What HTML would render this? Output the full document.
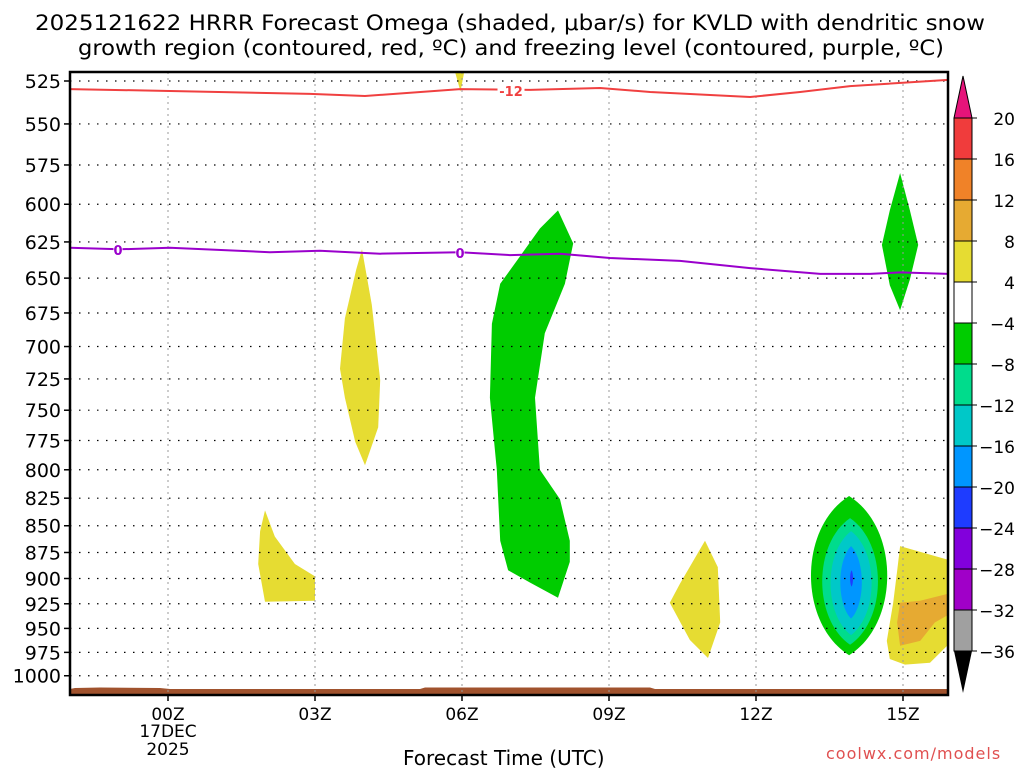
<!DOCTYPE html>
<html><head><meta charset="utf-8"><style>
body{margin:0;background:#fff;}
svg{display:block;font-family:"DejaVu Sans","Liberation Sans",sans-serif;}
</style></head><body>
<svg id="chart" width="1024" height="768" viewBox="0 0 1024 768" xmlns="http://www.w3.org/2000/svg">
<defs><clipPath id="pc"><rect x="70" y="72" width="878" height="623"/></clipPath></defs>
<text x="35" y="30" font-size="21" textLength="950" lengthAdjust="spacingAndGlyphs">2025121622 HRRR Forecast Omega (shaded, μbar/s) for KVLD with dendritic snow</text>
<text x="78" y="55" font-size="21" textLength="866" lengthAdjust="spacingAndGlyphs">growth region (contoured, red, ºC) and freezing level (contoured, purple, ºC)</text>
<g id="shades" clip-path="url(#pc)"></g>
<g id="grid"></g>
<g id="lines"></g>
<g id="axes"></g>
<g id="cbar"></g>
<text x="403" y="765" font-size="20">Forecast Time (UTC)</text>
<text x="826" y="759" font-size="16" fill="#e05050" letter-spacing="1">coolwx.com/models</text>
</svg>
<script>
const pTicks=[525,550,575,600,625,650,675,700,725,750,775,800,825,850,875,900,925,950,975,1000];
const hTicks=[0,3,6,9,12,15];
const hLabels=['00Z','03Z','06Z','09Z','12Z','15Z'];
const cbLevels=[20,16,12,8,4,-4,-8,-12,-16,-20,-24,-28,-32,-36];
const cbColors=['#f03c3c','#f08228','#e6aa32','#e6dc32','#ffffff','#00cc00','#00dc8c','#00c8c8','#0096ff','#1e3cff','#8200dc','#a000c8','#a0a0a0'];
const yel1H=[3.96,4.16,4.33,4.29,4.02,3.82,3.61,3.51,3.61,3.84];
const yel1P=[630,669,726,764,796,776,740,717,679,644];
const yel2H=[1.98,2.18,2.59,3.0,3.0,1.98,1.84,1.88];
const yel2P=[836,860,886,898,922,923,886,855];
const yel3H=[10.96,11.22,11.27,11.02,10.65,10.24,10.45];
const yel3P=[864,889,944,981,962,924,905];
const yel4H=[14.94,16,16,15.55,15.04,14.73,14.67,14.8,14.88];
const yel4P=[869,883,963,986,988,982,963,924,893];
const orgH=[14.94,15.35,16,16,15.65,15.35,14.94,14.88];
const orgP=[924,922,914,934,944,963,968,944];
const yelTopH=[5.85,6.05,5.97];
const yelTopP=[519,519,531];
const grn1H=[7.96,8.27,8.10,7.69,7.49,7.59,8.0,8.2,8.2,7.96,7.39,6.94,6.78,6.71,6.57,6.61,6.78,7.18,7.59];
const grn1P=[604,626,654,690,740,800,826,864,884,919,904,892,864,800,740,683,654,635,616];
const grn2H=[14.94,15.14,15.31,15.14,14.94,14.73,14.57,14.73];
const grn2P=[580,604,627,651,673,655,627,604];
const ringC=[13.9,13.92,13.94,13.94,13.95];
const ringW=[0.78,0.57,0.42,0.22,0.03];
const ringTop=[823,843,855,869,892];
const ringBot=[978,967,957,940,908];
const ringCol=[5,6,7,8,9];
const redH=[-2,0.04,2.9,4.02,5.96,7.39,8.82,9.84,11.88,12.9,13.92,15.92];
const redP=[529.6,530.7,532.4,533.6,529.6,530.1,529,531.3,534.2,531.3,527.9,524.4];
const purH=[-2,-1,0.04,2.08,3.1,4.33,5.96,6.98,8.0,9.02,10.45,11.88,13.31,14.33,14.94,15.92];
const purP=[629,630,629,632,631,633,632,634,633,636,638,643,647,647,646,647];

const NS='http://www.w3.org/2000/svg';
const PL=70,PR=948,PT=72,PB=695;
const X=h=>PL+(h+2)*49;
const Y=p=>81+923*Math.log(p/525);
function mk(tag,attrs,parent){const e=document.createElementNS(NS,tag);for(const k in attrs)e.setAttribute(k,attrs[k]);parent.appendChild(e);return e;}
const sh=document.getElementById('shades');
function poly(H,P,col,name){const pts=H.map((h,i)=>X(h).toFixed(1)+','+Y(P[i]).toFixed(1)).join(' ');
 const e=mk('polygon',{points:pts,fill:col},sh);
 
 }
poly(yelTopH,yelTopP,cbColors[3],'omega-yellow-top');
poly(yel1H,yel1P,cbColors[3],'omega-yellow-04z');
poly(yel2H,yel2P,cbColors[3],'omega-yellow-02z');
poly(yel3H,yel3P,cbColors[3],'omega-yellow-11z');
poly(yel4H,yel4P,cbColors[3],'omega-yellow-15z');
poly(orgH,orgP,cbColors[2],'omega-orange-15z');
poly(grn1H,grn1P,cbColors[5],'omega-green-07z');
poly(grn2H,grn2P,cbColors[5],'omega-green-15z');
ringC.forEach((c,i)=>{const cx=X(c),w=ringW[i]*49*1.33,t=Y(ringTop[i]),b=Y(ringBot[i]),hh=b-t;
 const d=`M${cx},${t} C${cx+w},${t+0.2*hh} ${cx+w},${b-0.2*hh} ${cx},${b} C${cx-w},${b-0.2*hh} ${cx-w},${t+0.2*hh} ${cx},${t}Z`;
 const e=mk('path',{d:d,fill:cbColors[ringCol[i]]},sh);
 
 });
const g=mk('path',{d:'M70,695 L70,689 L75,688 L100,687.5 L160,688 L170,689 L420,689 L425,687.5 L650,687.5 L655,689 L948,689 L948,695Z',fill:'#a0522d'},sh);


const gr=document.getElementById('grid');
pTicks.forEach(p=>{const e=mk('line',{x1:PL,x2:PR,y1:Y(p),y2:Y(p),stroke:'#000','stroke-width':1.2,'stroke-dasharray':'1.5 7.5'},gr);
 
 });
hTicks.forEach(h=>{const e=mk('line',{x1:X(h),x2:X(h),y1:PT,y2:PB,stroke:'#999','stroke-width':1,'stroke-dasharray':'2 4'},gr);
 
 });
const ln=document.getElementById('lines');
function pl(H,P,col,name){const e=mk('polyline',{points:H.map((h,i)=>X(h)+','+Y(P[i]).toFixed(1)).join(' '),fill:'none',stroke:col,'stroke-width':2},ln);
 
 }
pl(redH,redP,'#f04040','dgz-minus12-contour');
pl(purH,purP,'#9a00cc','freezing-level-contour');
function lab(x,y,t,col,name){mk('rect',{x:x-(t.length*4.5),y:y-7,width:t.length*9,height:14,fill:'#fff'},ln);
 const e=mk('text',{x:x,y:y+5,'text-anchor':'middle','font-size':13,'font-weight':'bold',fill:col},ln);e.textContent=t;
 
 }
lab(511,91,'-12','#f04040','contour-label-minus12');
lab(118,250,'0','#9a00cc','contour-label-0-a');
lab(460,253,'0','#9a00cc','contour-label-0-b');
const ax=document.getElementById('axes');
mk('rect',{x:PL,y:PT,width:PR-PL,height:PB-PT,fill:'none',stroke:'#000','stroke-width':2.5},ax);
pTicks.forEach(p=>{mk('line',{x1:PL-6,x2:PL,y1:Y(p),y2:Y(p),stroke:'#000','stroke-width':1.5},ax);
 const e=mk('text',{x:PL-9,y:Y(p)+7,'text-anchor':'end','font-size':19},ax);e.textContent=p;
 
 });
hTicks.forEach((h,i)=>{mk('line',{x1:X(h),x2:X(h),y1:PB,y2:PB+6,stroke:'#000','stroke-width':1.5},ax);
 const e=mk('text',{x:X(h),y:PB+25,'text-anchor':'middle','font-size':17},ax);e.textContent=hLabels[i];
 
 });
const d1=mk('text',{x:X(0),y:PB+42,'text-anchor':'middle','font-size':17},ax);d1.textContent='17DEC';


const d2=mk('text',{x:X(0),y:PB+60,'text-anchor':'middle','font-size':17},ax);d2.textContent='2025';


const cb=document.getElementById('cbar');
const cx0=954,cw=18,cbTop=118,step=41;
const tp=mk('polygon',{points:`${cx0},${cbTop} ${cx0+cw},${cbTop} ${cx0+cw/2},76`,fill:'#e6147a',stroke:'#000','stroke-width':1},cb);


cbColors.forEach((c,i)=>{const e=mk('rect',{x:cx0,y:cbTop+i*step,width:cw,height:step,fill:c,stroke:'#000','stroke-width':1},cb);
 
 });
const bt=cbTop+cbColors.length*step;
const bp=mk('polygon',{points:`${cx0},${bt} ${cx0+cw},${bt} ${cx0+cw/2},${bt+42}`,fill:'#000'},cb);


cbLevels.forEach((v,i)=>{const y=cbTop+i*step;mk('line',{x1:cx0+cw,x2:cx0+cw+5,y1:y,y2:y,stroke:'#000'},cb);
 const e=mk('text',{x:1015,y:y+7,'text-anchor':'end','font-size':17},cb);e.textContent=v<0?'\u2212'+(-v):v;
 
 });
</script>
</body></html>
